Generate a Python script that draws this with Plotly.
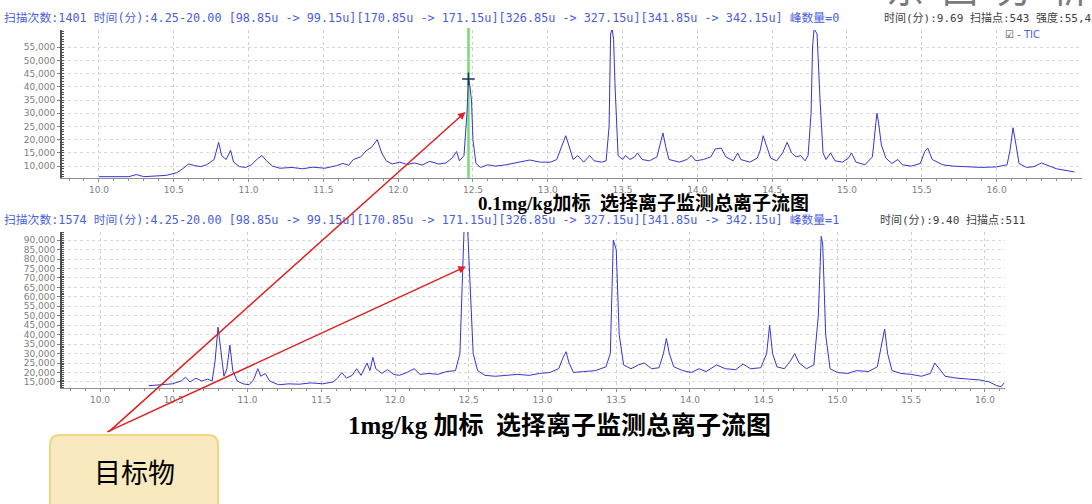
import plotly.graph_objects as go

# ---------------- data ----------------
top_time = [10.00, 10.20, 10.25, 10.30, 10.45, 10.52, 10.56, 10.60, 10.64, 10.68, 10.72, 10.77, 10.80, 10.82,
            10.85, 10.88, 10.90, 10.94, 10.98, 11.02, 11.06, 11.09, 11.12, 11.16, 11.21, 11.29, 11.36, 11.43,
            11.51, 11.59, 11.63, 11.67, 11.70, 11.75, 11.79, 11.82, 11.86, 11.89, 11.92, 11.96, 12.01, 12.06,
            12.11, 12.16, 12.21, 12.27, 12.32, 12.36, 12.39, 12.41, 12.44, 12.46, 12.47, 12.48, 12.49, 12.50,
            12.52, 12.55, 12.60, 12.65, 12.72, 12.80, 12.88, 12.95, 13.02, 13.06, 13.10, 13.12, 13.14, 13.17,
            13.20, 13.24, 13.28, 13.31, 13.36, 13.39, 13.41, 13.42, 13.43, 13.44, 13.45, 13.47, 13.50, 13.52,
            13.55, 13.58, 13.60, 13.63, 13.68, 13.73, 13.75, 13.77, 13.79, 13.81, 13.88, 13.93, 13.96, 13.99,
            14.04, 14.09, 14.12, 14.16, 14.19, 14.24, 14.27, 14.29, 14.35, 14.40, 14.42, 14.44, 14.46, 14.49,
            14.53, 14.57, 14.60, 14.63, 14.66, 14.69, 14.72, 14.74, 14.76, 14.77, 14.78, 14.80, 14.82, 14.84,
            14.86, 14.89, 14.92, 14.97, 15.01, 15.03, 15.06, 15.12, 15.17, 15.19, 15.20, 15.21, 15.23, 15.26,
            15.30, 15.34, 15.37, 15.43, 15.49, 15.52, 15.54, 15.57, 15.64, 15.71, 15.80, 15.90, 16.00, 16.07,
            16.09, 16.11, 16.13, 16.15, 16.20, 16.25, 16.30, 16.35, 16.40, 16.52]
top_tic = [6000, 6000, 6800, 6000, 6500, 7500, 9000, 10800, 10200, 9800, 10500, 12500, 19000, 14000,
           12500, 16000, 11500, 9800, 9500, 10500, 12800, 14000, 12000, 10000, 9200, 9500, 9000, 9600,
           9200, 10200, 11000, 10300, 12500, 13500, 16000, 17000, 20000, 15000, 12000, 10800, 11500, 10600,
           11200, 10400, 11800, 10800, 11200, 13000, 15500, 12000, 14000, 30000, 43000, 40000, 35000, 20000,
           11000, 9500, 10500, 10000, 10500, 11500, 12300, 11500, 11500, 12500, 18500, 21500, 18000, 12500,
           14000, 11500, 14000, 12000, 11500, 12000, 25000, 60000, 62000, 58000, 40000, 14000, 12500, 14000,
           12500, 13500, 15000, 12500, 12000, 13500, 18000, 22500, 17000, 12500, 11500, 12500, 14000, 12000,
           12500, 13500, 16500, 16800, 13500, 12000, 15000, 12500, 11500, 13000, 16000, 21500, 18000, 13000,
           12000, 15000, 19000, 15000, 13500, 14000, 12000, 14000, 30000, 55000, 62000, 60000, 35000, 15000,
           12500, 15000, 12000, 11500, 13000, 15000, 11500, 10500, 13500, 24000, 30000, 27000, 18000, 13000,
           11000, 12500, 10500, 10000, 11000, 15500, 16800, 12500, 10500, 10000, 9800, 9500, 9700, 10500,
           16000, 24500, 18000, 11000, 9500, 9800, 11200, 10000, 9000, 7800]

bot_time = [10.33, 10.41, 10.49, 10.55, 10.58, 10.61, 10.65, 10.69, 10.73, 10.76, 10.78, 10.80, 10.82, 10.84,
            10.86, 10.88, 10.90, 10.93, 10.97, 11.01, 11.04, 11.07, 11.09, 11.12, 11.15, 11.21, 11.28, 11.35,
            11.43, 11.51, 11.58, 11.61, 11.64, 11.67, 11.71, 11.74, 11.77, 11.79, 11.81, 11.83, 11.85, 11.87,
            11.91, 11.95, 11.99, 12.03, 12.08, 12.13, 12.17, 12.23, 12.29, 12.35, 12.41, 12.44, 12.46, 12.47,
            12.49, 12.51, 12.53, 12.56, 12.61, 12.68, 12.75, 12.83, 12.91, 12.98, 13.05, 13.11, 13.14, 13.16,
            13.18, 13.21, 13.28, 13.36, 13.43, 13.46, 13.48, 13.50, 13.52, 13.55, 13.60, 13.65, 13.69, 13.74,
            13.79, 13.82, 13.84, 13.86, 13.89, 13.95, 14.01, 14.06, 14.11, 14.18, 14.24, 14.31, 14.36, 14.41,
            14.48, 14.52, 14.54, 14.56, 14.59, 14.64, 14.68, 14.71, 14.74, 14.79, 14.84, 14.87, 14.89, 14.90,
            14.92, 14.95, 15.00, 15.07, 15.13, 15.21, 15.27, 15.30, 15.32, 15.34, 15.37, 15.43, 15.50, 15.57,
            15.63, 15.66, 15.69, 15.73, 15.81, 15.89, 15.97, 16.03, 16.08, 16.11, 16.13]
bot_tic = [13000, 13500, 14000, 15500, 17500, 15000, 17000, 15500, 16500, 15500, 26000, 44000, 30000, 18000,
           22000, 34500, 21000, 15500, 14000, 13500, 16000, 22000, 18000, 19500, 15500, 13500, 14000, 13800,
           14500, 14000, 15000, 17000, 20000, 17000, 18500, 22000, 18500, 22000, 25000, 21000, 28000, 22000,
           19500, 21500, 19000, 18500, 20000, 22000, 19000, 19500, 19000, 20500, 21000, 30000, 70000, 100000,
           100000, 60000, 30000, 21000, 18500, 18000, 18500, 19000, 18500, 19500, 20000, 22000, 28000, 31000,
           25000, 20000, 20500, 21000, 23000, 30000, 90000, 85000, 40000, 24000, 22000, 24000, 25000, 22000,
           22500, 30000, 38000, 30000, 23000, 21000, 20000, 22000, 20500, 24000, 22000, 21500, 24500, 22000,
           22500, 30000, 45000, 30000, 23000, 22000, 26000, 30000, 25000, 22000, 24000, 50000, 92000, 88000,
           40000, 22000, 20000, 19500, 21000, 20500, 23000, 35000, 43000, 30000, 21000, 19500, 19000, 18000,
           19500, 25000, 22000, 18000, 17000, 16500, 16000, 15000, 13000, 12500, 14500]

x_ticks = [10.0, 10.5, 11.0, 11.5, 12.0, 12.5, 13.0, 13.5, 14.0, 14.5, 15.0, 15.5, 16.0]
x_tick_labels = ["10.0", "10.5", "11.0", "11.5", "12.0", "12.5", "13.0", "13.5", "14.0", "14.5", "15.0", "15.5", "16.0"]
top_y_ticks = [10000, 15000, 20000, 25000, 30000, 35000, 40000, 45000, 50000, 55000]
bot_y_ticks = [15000, 20000, 25000, 30000, 35000, 40000, 45000, 50000, 55000, 60000, 65000, 70000, 75000, 80000,
               85000, 90000]

target_time_top = 12.47
target_peak_top = 43000
target_arrow_top = (12.45, 30500)
target_arrow_bot = (12.48, 76000)

top_header = ("扫描次数:1401 时间(分):4.25-20.00 [98.85u -> 99.15u][170.85u -> 171.15u]"
              "[326.85u -> 327.15u][341.85u -> 342.15u] 峰数量=0")
bot_header = ("扫描次数:1574 时间(分):4.25-20.00 [98.85u -> 99.15u][170.85u -> 171.15u]"
              "[326.85u -> 327.15u][341.85u -> 342.15u] 峰数量=1")
top_info = "时间(分):9.69 扫描点:543 强度:55,408"
bot_info = "时间(分):9.40 扫描点:511"
legend_label = "- TIC"
top_title = "0.1mg/kg加标  选择离子监测总离子流图"
bot_title = "1mg/kg 加标  选择离子监测总离子流图"
callout_text = "目标物"
watermark = "东  西  分  析"

# ---------------- layout helpers ----------------
W, H = 1092, 504


def px(x):
    return x / W


def py(y):
    return 1 - y / H


LINE = "#3535d0"
TICKFONT = dict(family="DejaVu Sans", size=9, color="#808080")

fig = go.Figure()
fig.add_trace(go.Scatter(x=top_time, y=top_tic, mode="lines", line=dict(color=LINE, width=1),
                         xaxis="x", yaxis="y", showlegend=False, hoverinfo="skip"))
fig.add_trace(go.Scatter(x=bot_time, y=bot_tic, mode="lines", line=dict(color=LINE, width=1),
                         xaxis="x2", yaxis="y2", showlegend=False, hoverinfo="skip"))
# small cross at top of the target peak
fig.add_trace(go.Scatter(x=[target_time_top], y=[target_peak_top], mode="markers",
                         marker=dict(symbol="cross-thin", size=9, line=dict(color="#203060", width=1.5)),
                         xaxis="x", yaxis="y", showlegend=False, hoverinfo="skip"))

xcommon = dict(tickvals=x_ticks, ticktext=x_tick_labels, tickfont=TICKFONT, showgrid=True,
               gridcolor="#d0d0d0", griddash="dot", gridwidth=1, zeroline=False,
               showline=True, linecolor="#909090", linewidth=1, ticks="outside", ticklen=3,
               tickcolor="#909090",
               minor=dict(dtick=0.1, ticks="outside", ticklen=2, tickcolor="#909090", showgrid=False))
ycommon = dict(tickfont=TICKFONT, tickformat=",d", showgrid=True, gridcolor="#d8d8d8", griddash="dot",
               gridwidth=1, zeroline=False, showline=True, linecolor="#505050", linewidth=2,
               ticks="outside", ticklen=3, tickcolor="#808080",
               minor=dict(dtick=1000, ticks="inside", ticklen=2, tickcolor="#505050", showgrid=False))

fig.update_layout(
    width=W, height=H, margin=dict(l=0, r=0, t=0, b=0),
    paper_bgcolor="white", plot_bgcolor="white",
    xaxis=dict(domain=[px(62), px(1082)], range=[9.753, 16.571], anchor="y", **xcommon),
    yaxis=dict(domain=[py(178), py(30)], range=[5500, 61500], anchor="x", tickvals=top_y_ticks, **ycommon),
    xaxis2=dict(domain=[px(62), px(1005)], range=[9.742, 16.136], anchor="y2", **xcommon),
    yaxis2=dict(domain=[py(388), py(232)], range=[11800, 94300], anchor="x2", tickvals=bot_y_ticks, **ycommon),
)

# green marker line at the target peak
fig.add_shape(type="line", xref="x", yref="paper", x0=target_time_top, x1=target_time_top, y0=py(178),
              y1=py(28), line=dict(color="#6ee06e", width=2.5), layer="below")

ann = []
hdr_font = dict(family="DejaVu Sans Mono, Noto Sans CJK SC", size=11.8, color="#4a5ee0")
info_font = dict(family="DejaVu Sans Mono, Noto Sans CJK SC", size=11, color="#404040")
ann.append(dict(xref="paper", yref="paper", x=px(2), y=py(18), text=top_header, showarrow=False,
                xanchor="left", yanchor="middle", font=hdr_font))
ann.append(dict(xref="paper", yref="paper", x=px(882), y=py(18), text=top_info, showarrow=False,
                xanchor="left", yanchor="middle", font=info_font))
ann.append(dict(xref="paper", yref="paper", x=px(2), y=py(220), text=bot_header, showarrow=False,
                xanchor="left", yanchor="middle", font=hdr_font))
ann.append(dict(xref="paper", yref="paper", x=px(878), y=py(220), text=bot_info, showarrow=False,
                xanchor="left", yanchor="middle", font=info_font))
ann.append(dict(xref="paper", yref="paper", x=px(1003), y=py(35),
                text="☑ <span style='color:#4a5ee0'>" + legend_label + "</span>",
                showarrow=False, xanchor="left", yanchor="middle",
                font=dict(family="DejaVu Sans", size=10, color="#404040")))
ann.append(dict(xref="paper", yref="paper", x=px(987), y=py(15), text=watermark, showarrow=False,
                xanchor="center", yanchor="bottom", font=dict(family="Noto Sans CJK SC", size=38, color="#7a7a7a")))
ann.append(dict(xref="paper", yref="paper", x=px(643), y=py(203), text="<b>" + top_title + "</b>",
                showarrow=False, xanchor="center", yanchor="middle", borderpad=0,
                font=dict(family="Liberation Serif, Noto Sans CJK SC", size=19, color="black")))
ann.append(dict(xref="paper", yref="paper", x=px(559), y=py(425), text="<b>" + bot_title + "</b>",
                showarrow=False, xanchor="center", yanchor="middle",
                font=dict(family="Liberation Serif, Noto Sans CJK SC", size=25, color="black")))

# red arrows from the callout box to the target peaks (tail at about (107, 433) px)
ann.append(dict(xref="x", yref="y", x=target_arrow_top[0], y=target_arrow_top[1], ax=-358, ay=321, text="",
                showarrow=True, arrowhead=2, arrowsize=1, arrowwidth=1.5, arrowcolor="#e02020"))
ann.append(dict(xref="x2", yref="y2", x=target_arrow_bot[0], y=target_arrow_bot[1], ax=-360, ay=166, text="",
                showarrow=True, arrowhead=2, arrowsize=1, arrowwidth=1.5, arrowcolor="#e02020"))

# callout box
x0, x1, y0, y1, r = 50, 218, 435, 520, 10
path = (f"M {px(x0 + r)} {py(y0)} L {px(x1 - r)} {py(y0)} "
        f"Q {px(x1)} {py(y0)} {px(x1)} {py(y0 + r)} L {px(x1)} {py(y1 - r)} "
        f"Q {px(x1)} {py(y1)} {px(x1 - r)} {py(y1)} L {px(x0 + r)} {py(y1)} "
        f"Q {px(x0)} {py(y1)} {px(x0)} {py(y1 - r)} L {px(x0)} {py(y0 + r)} "
        f"Q {px(x0)} {py(y0)} {px(x0 + r)} {py(y0)} Z")
fig.add_shape(type="path", xref="paper", yref="paper", path=path, fillcolor="#f8e9bf",
              line=dict(color="#f0d680", width=2), layer="above")
ann.append(dict(xref="paper", yref="paper", x=px(134), y=py(471), text=callout_text, showarrow=False,
                xanchor="center", yanchor="middle", font=dict(family="Noto Sans CJK SC", size=27, color="black")))

fig.update_layout(annotations=ann)
fig.write_html("out.html", config={"displayModeBar": False},
               post_script="document.body.style.margin='0';document.body.style.overflow='hidden';")
